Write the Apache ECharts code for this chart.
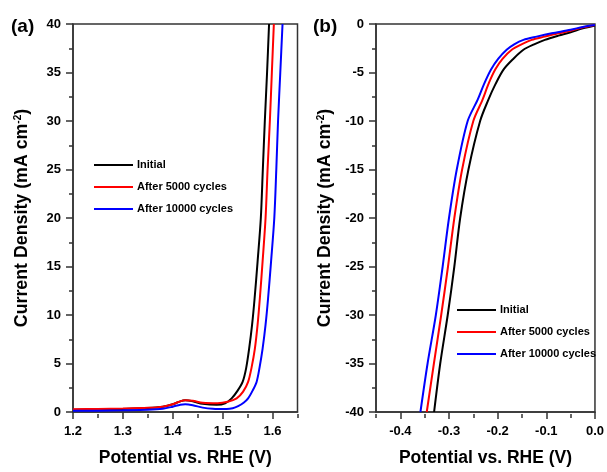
<!DOCTYPE html>
<html>
<head>
<meta charset="utf-8">
<script src="https://cdn.jsdelivr.net/npm/echarts@6/dist/echarts.min.js"></script>
<style>html,body{margin:0;padding:0;background:#fff}#c{width:607px;height:472px}</style>
</head>
<body>
<div id="c"></div>
<script>
// ---- Data ----
var seriesNames = ['Initial', 'After 5000 cycles', 'After 10000 cycles'];
var seriesColors = ['#000000', '#ff0000', '#0000ff'];

// Panel (a): OER polarization, [potential V, current density mA cm-2]
var oerInitial = [[1.20,0.22],[1.25,0.27],[1.30,0.32],[1.35,0.40],[1.38,0.55],[1.40,0.80],[1.415,1.10],[1.425,1.20],[1.44,1.10],[1.46,0.85],[1.488,0.75],[1.505,0.90],[1.518,1.40],[1.53,2.2],[1.540,3.1],[1.547,4.5],[1.553,6.5],[1.559,9.0],[1.564,11.7],[1.570,15.5],[1.5765,20],[1.5805,25],[1.5845,30],[1.589,35],[1.593,40]];
var oer5000 = [[1.20,0.28],[1.25,0.32],[1.30,0.36],[1.35,0.43],[1.38,0.55],[1.40,0.80],[1.415,1.10],[1.425,1.20],[1.44,1.15],[1.46,0.95],[1.49,0.90],[1.51,1.05],[1.528,1.40],[1.541,2.1],[1.551,3.1],[1.558,4.6],[1.5645,6.5],[1.570,9.0],[1.5745,11.7],[1.580,15.5],[1.586,20],[1.590,25],[1.5946,30],[1.5986,35],[1.6026,40]];
var oer10000 = [[1.20,0.12],[1.25,0.14],[1.30,0.17],[1.35,0.22],[1.38,0.33],[1.40,0.55],[1.415,0.75],[1.425,0.80],[1.44,0.70],[1.46,0.45],[1.48,0.33],[1.508,0.30],[1.52,0.38],[1.531,0.60],[1.542,0.95],[1.551,1.4],[1.56,2.2],[1.568,3.1],[1.574,4.6],[1.580,6.5],[1.586,9.0],[1.591,11.7],[1.597,15.5],[1.6035,20],[1.6075,25],[1.611,30],[1.6155,35],[1.620,40]];

// Panel (b): HER polarization
var herInitial = [[0.000,-0.15],[-0.025,-0.45],[-0.05,-0.85],[-0.075,-1.2],[-0.103,-1.64],[-0.125,-2.1],[-0.147,-2.66],[-0.168,-3.6],[-0.188,-4.7],[-0.2045,-6.2],[-0.219,-7.8],[-0.236,-10],[-0.260,-15],[-0.277,-20],[-0.289,-25],[-0.3026,-30],[-0.318,-35],[-0.3306,-40]];
var her5000 = [[0.000,-0.10],[-0.025,-0.35],[-0.05,-0.70],[-0.075,-0.96],[-0.103,-1.30],[-0.130,-1.64],[-0.151,-2.1],[-0.171,-2.66],[-0.190,-3.6],[-0.205,-4.7],[-0.219,-6.2],[-0.231,-7.8],[-0.250,-10],[-0.273,-15],[-0.289,-20],[-0.302,-25],[-0.316,-30],[-0.331,-35],[-0.3457,-40]];
var her10000 = [[0.000,-0.10],[-0.025,-0.30],[-0.05,-0.60],[-0.089,-0.96],[-0.12,-1.30],[-0.147,-1.64],[-0.166,-2.1],[-0.1815,-2.66],[-0.199,-3.6],[-0.2136,-4.7],[-0.228,-6.2],[-0.241,-7.8],[-0.2616,-10],[-0.284,-15],[-0.300,-20],[-0.313,-25],[-0.327,-30],[-0.344,-35],[-0.3587,-40]];

// Tick values
var aMajorX = [1.2, 1.3, 1.4, 1.5, 1.6];
var aMinorX = [1.25, 1.35, 1.45, 1.55, 1.65];
var bMajorX = [-0.4, -0.3, -0.2, -0.1, 0];
var bMinorX = [-0.45, -0.35, -0.25, -0.15, -0.05];

var xTitle = 'Potential vs. RHE (V)';
var yTitle = 'Current Density (mA cm{sup|-2})';

// ---- Chart ----
var FONT = 'Liberation Sans, Arial, sans-serif';
var AX = '#333333';
var GRID_H = 390;
var chart = echarts.init(document.getElementById('c'), null, {renderer: 'canvas'});

function mainX(grid, min, max, majors) {
  return {
    type: 'value', gridIndex: grid, min: min, max: max, position: 'bottom',
    name: xTitle, nameLocation: 'middle', nameGap: 37,
    nameTextStyle: {fontFamily: FONT, fontWeight: 'bold', fontSize: 17.5, color: '#000'},
    axisLine: {show: true, onZero: false, lineStyle: {color: AX, width: 1.5}},
    axisTick: {show: true, inside: false, length: 7, lineStyle: {color: AX, width: 1.5}, customValues: majors},
    axisLabel: {customValues: majors, margin: 13, fontFamily: FONT, fontWeight: 'bold', fontSize: 13, color: '#000',
      formatter: function (v) { return (Math.abs(v) < 1e-9 ? 0 : v).toFixed(1); }},
    splitLine: {show: false}
  };
}
// minor-tick axis: placed at top, shifted down onto the bottom edge, ticks pointing down
function minorX(grid, min, max, minors) {
  return {
    type: 'value', gridIndex: grid, min: min, max: max, position: 'top', offset: -GRID_H,
    axisLine: {show: false, onZero: false},
    axisTick: {show: true, inside: true, length: 4, lineStyle: {color: AX, width: 1.5}, customValues: minors},
    axisLabel: {show: false},
    splitLine: {show: false}
  };
}
function mainY(grid, min, max) {
  return {
    type: 'value', gridIndex: grid, min: min, max: max, interval: 5, position: 'left',
    name: yTitle, nameLocation: 'middle', nameGap: 41, nameRotate: 90,
    nameTextStyle: {fontFamily: FONT, fontWeight: 'bold', fontSize: 17.8, color: '#000',
      rich: {sup: {fontFamily: FONT, fontWeight: 'bold', fontSize: 10, color: '#000', verticalAlign: 'top', padding: [0, 0, 9, 0]}}},
    axisLine: {show: true, onZero: false, lineStyle: {color: AX, width: 1.5}},
    axisTick: {show: true, inside: false, length: 7, lineStyle: {color: AX, width: 1.5}},
    minorTick: {show: true, splitNumber: 2, length: 4, lineStyle: {color: AX, width: 1.5}},
    axisLabel: {margin: 12, fontFamily: FONT, fontWeight: 'bold', fontSize: 13, color: '#000'},
    splitLine: {show: false}, minorSplitLine: {show: false}
  };
}
function line(name, data, color, xi, yi) {
  return {
    name: name, type: 'line', data: data, xAxisIndex: xi, yAxisIndex: yi,
    showSymbol: false, symbol: 'none', smooth: 0.3, clip: true,
    lineStyle: {color: color, width: 2}, itemStyle: {color: color}, z: 3, animation: false
  };
}
function legend(left, top) {
  return {
    data: seriesNames, orient: 'vertical', left: left, top: top, padding: 0,
    icon: 'rect', itemWidth: 39, itemHeight: 2, itemGap: 8, selectedMode: false,
    textStyle: {fontFamily: FONT, fontWeight: 'bold', fontSize: 11, color: '#000', lineHeight: 14, padding: [0, 0, 0, -1]}
  };
}

var option = {
  animation: false,
  backgroundColor: '#ffffff',
  grid: [
    {left: 73, top: 24, width: 224.5, height: GRID_H, show: true, borderColor: AX, borderWidth: 1.5, containLabel: false},
    {left: 376, top: 24, width: 220.7, height: GRID_H, show: true, borderColor: AX, borderWidth: 1.5, containLabel: false}
  ],
  xAxis: [
    mainX(0, 1.2, 1.65, aMajorX),
    minorX(0, 1.2, 1.65, aMinorX),
    mainX(1, -0.45, 0, bMajorX),
    minorX(1, -0.45, 0, bMinorX)
  ],
  yAxis: [
    mainY(0, 0, 40),
    mainY(1, -40, 0)
  ],
  legend: [legend(94, 158), legend(457, 303)],
  graphic: [
    {type: 'text', left: 11, top: 17, style: {text: '(a)', fontFamily: FONT, fontWeight: 'bold', fontSize: 19, fill: '#000'}},
    {type: 'text', left: 313, top: 17, style: {text: '(b)', fontFamily: FONT, fontWeight: 'bold', fontSize: 19, fill: '#000'}}
  ],
  series: [
    line(seriesNames[0], oerInitial, seriesColors[0], 0, 0),
    line(seriesNames[1], oer5000, seriesColors[1], 0, 0),
    line(seriesNames[2], oer10000, seriesColors[2], 0, 0),
    line(seriesNames[0], herInitial, seriesColors[0], 2, 1),
    line(seriesNames[1], her5000, seriesColors[1], 2, 1),
    line(seriesNames[2], her10000, seriesColors[2], 2, 1)
  ]
};
chart.setOption(option);
</script>
</body>
</html>
